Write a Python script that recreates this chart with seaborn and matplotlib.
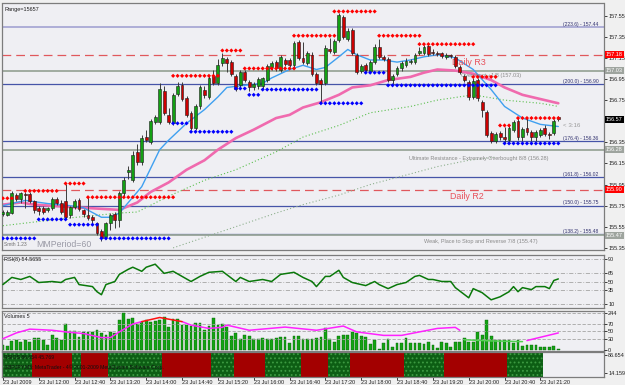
import numpy as np
import pandas as pd
import matplotlib
matplotlib.use("Agg")
import matplotlib.pyplot as plt
import seaborn as sns

# GBPJPY M5, 23 Jul 2009, bars 11:20 .. 21:40
opens = [155.67, 155.66, 155.68, 155.85, 155.81, 155.86, 155.86, 155.79, 155.73, 155.73,
         155.71, 155.73, 155.81, 155.78, 155.79, 155.66, 155.74, 155.80, 155.71, 155.66,
         155.64, 155.59, 155.51, 155.45, 155.59, 155.67, 155.61, 155.87, 156.07, 155.99,
         156.26, 156.16, 156.40, 156.35, 156.54, 156.54, 156.84, 156.61, 156.53, 156.81,
         156.89, 156.77, 156.63, 156.49, 156.69, 156.85, 156.78, 156.98, 156.91, 157.10,
         157.14, 157.11, 156.98, 156.89, 157.02, 156.92, 156.87, 156.88, 156.88, 156.94,
         157.06, 157.11, 157.04, 157.13, 157.13, 157.08, 157.30, 157.15, 157.10, 157.18,
         157.00, 156.94, 156.91, 157.23, 157.21, 157.32, 157.54, 157.33, 157.41, 157.18,
         157.03, 157.08, 157.03, 157.11, 157.25, 157.16, 157.14, 156.94, 157.00, 157.05,
         157.08, 157.11, 157.11, 157.20, 157.20, 157.26, 157.21, 157.20, 157.20, 157.16,
         157.18, 157.16, 157.06, 156.98, 156.92, 156.78, 156.94, 156.73, 156.64, 156.44,
         156.36, 156.44, 156.40, 156.37, 156.47, 156.55, 156.40, 156.49, 156.45, 156.40,
         156.42, 156.49, 156.43, 156.44, 156.59]
highs = [155.71, 155.71, 155.89, 155.87, 155.88, 155.88, 155.88, 155.80, 155.75, 155.75,
         155.74, 155.83, 155.83, 155.80, 155.96, 155.75, 155.81, 155.82, 155.72, 155.83,
         155.66, 155.60, 155.53, 155.60, 155.68, 155.69, 155.89, 156.02, 156.13, 156.27,
         156.33, 156.42, 156.47, 156.57, 156.61, 156.91, 156.88, 156.68, 156.82, 156.92,
         156.92, 156.79, 156.65, 156.71, 156.89, 156.88, 156.98, 157.04, 157.14, 157.20,
         157.16, 157.13, 157.00, 157.04, 157.04, 156.94, 156.92, 156.97, 156.97, 157.09,
         157.12, 157.13, 157.18, 157.15, 157.15, 157.31, 157.32, 157.30, 157.22, 157.21,
         157.02, 156.96, 157.27, 157.34, 157.33, 157.58, 157.56, 157.43, 157.43, 157.20,
         157.09, 157.10, 157.13, 157.28, 157.33, 157.18, 157.16, 157.00, 157.07, 157.12,
         157.15, 157.14, 157.20, 157.25, 157.27, 157.28, 157.23, 157.22, 157.21, 157.20,
         157.19, 157.18, 157.08, 157.00, 156.94, 156.96, 156.96, 156.75, 156.66, 156.46,
         156.45, 156.46, 156.50, 156.51, 156.56, 156.58, 156.50, 156.58, 156.47, 156.47,
         156.49, 156.51, 156.45, 156.57, 156.60]
lows = [155.65, 155.65, 155.67, 155.79, 155.78, 155.73, 155.78, 155.68, 155.66, 155.67,
        155.69, 155.71, 155.76, 155.67, 155.62, 155.63, 155.72, 155.70, 155.64, 155.61,
        155.58, 155.47, 155.42, 155.43, 155.52, 155.54, 155.55, 155.84, 156.00, 155.97,
        156.14, 156.14, 156.35, 156.33, 156.52, 156.52, 156.61, 156.52, 156.51, 156.79,
        156.74, 156.59, 156.47, 156.47, 156.67, 156.77, 156.76, 156.89, 156.89, 157.07,
        157.02, 156.98, 156.84, 156.87, 156.92, 156.84, 156.85, 156.86, 156.86, 156.92,
        157.04, 157.03, 157.02, 157.07, 157.06, 157.06, 157.13, 157.09, 157.08, 156.98,
        156.89, 156.72, 156.89, 157.20, 157.19, 157.30, 157.33, 157.31, 157.18, 157.00,
        157.01, 157.02, 157.01, 157.09, 157.14, 157.12, 156.92, 156.90, 156.98, 157.03,
        157.06, 157.09, 157.09, 157.18, 157.18, 157.17, 157.18, 157.17, 157.15, 157.14,
        157.15, 157.05, 157.00, 156.92, 156.75, 156.76, 156.74, 156.59, 156.40, 156.34,
        156.34, 156.37, 156.34, 156.35, 156.45, 156.37, 156.36, 156.42, 156.36, 156.36,
        156.40, 156.41, 156.38, 156.42, 156.55]
closes = [155.69, 155.69, 155.87, 155.81, 155.87, 155.85, 155.79, 155.71, 155.70, 155.69,
          155.73, 155.81, 155.78, 155.69, 155.64, 155.74, 155.79, 155.72, 155.67, 155.63,
          155.61, 155.49, 155.44, 155.59, 155.66, 155.61, 155.87, 155.99, 156.09, 156.23,
          156.16, 156.39, 156.37, 156.55, 156.59, 156.86, 156.63, 156.54, 156.80, 156.88,
          156.76, 156.61, 156.49, 156.69, 156.87, 156.80, 156.96, 156.91, 157.08, 157.15,
          157.10, 157.00, 156.86, 157.02, 156.94, 156.87, 156.90, 156.95, 156.96, 157.07,
          157.10, 157.05, 157.16, 157.09, 157.08, 157.29, 157.15, 157.11, 157.20, 157.00,
          156.91, 156.90, 157.24, 157.22, 157.31, 157.56, 157.35, 157.40, 157.20, 157.02,
          157.07, 157.04, 157.11, 157.25, 157.16, 157.14, 156.94, 156.98, 157.05, 157.10,
          157.12, 157.12, 157.18, 157.22, 157.25, 157.19, 157.20, 157.19, 157.17, 157.18,
          157.17, 157.07, 157.02, 156.94, 156.78, 156.93, 156.77, 156.66, 156.42, 156.36,
          156.43, 156.40, 156.38, 156.49, 156.54, 156.40, 156.48, 156.45, 156.40, 156.45,
          156.47, 156.43, 156.42, 156.55, 156.57]
volumes = [30, 27, 60, 64, 53, 64, 53, 75, 75, 64,
           31, 98, 75, 64, 171, 124, 124, 82, 120, 115,
           115, 131, 113, 98, 120, 109, 198, 242, 202, 209,
           171, 186, 198, 186, 191, 198, 220, 149, 202, 202,
           164, 164, 158, 180, 175, 131, 158, 213, 162, 171,
           149, 91, 109, 69, 98, 91, 69, 69, 75, 69,
           69, 75, 87, 82, 47, 91, 91, 69, 69, 69,
           75, 82, 142, 69, 53, 91, 98, 98, 120, 113,
           91, 82, 36, 64, 5, 47, 69, 20, 47, 47,
           75, 47, 47, 47, 38, 53, 31, 9, 53, 42,
           16, 53, 53, 75, 53, 53, 120, 98, 198, 91,
           64, 64, 64, 64, 42, 64, 27, 31, 31, 31,
           16, 16, 16, 27, 3]

time_ticks = [0, 8, 16, 24, 32, 40, 48, 56, 64, 72, 80, 88, 96, 104, 112, 120]
time_labels = ["23 Jul 2009", "23 Jul 12:00", "23 Jul 12:40", "23 Jul 13:20", "23 Jul 14:00",
               "23 Jul 14:40", "23 Jul 15:20", "23 Jul 16:00", "23 Jul 16:40", "23 Jul 17:20",
               "23 Jul 18:00", "23 Jul 18:40", "23 Jul 19:20", "23 Jul 20:00", "23 Jul 20:40",
               "23 Jul 21:20"]

# moving averages (sampled along the curves)
ma_fast_bars = [0, 5, 10, 15, 18, 22, 24, 26, 29, 31, 35, 37, 41, 45, 48, 50, 54, 58, 60, 64,
                67, 70, 72, 75, 77, 79, 82, 85, 88, 91, 94, 97, 101, 105, 109, 112, 116, 120, 124]
ma_fast_vals = [155.75, 155.80, 155.77, 155.75, 155.73, 155.64, 155.64, 155.68, 155.83, 155.93,
                156.28, 156.37, 156.53, 156.66, 156.78, 156.87, 156.89, 156.91, 156.96, 157.04,
                157.08, 157.04, 157.06, 157.16, 157.23, 157.18, 157.13, 157.13, 157.11, 157.13,
                157.16, 157.18, 157.15, 157.04, 156.85, 156.69, 156.58, 156.52, 156.50]
ma_mid_bars = [0, 4, 7, 14, 22, 26, 30, 33, 37, 41, 45, 48, 52, 56, 61, 64, 67, 71, 75, 78,
               82, 86, 91, 94, 97, 101, 105, 109, 112, 116, 120, 124]
ma_mid_vals = [155.76, 155.78, 155.76, 155.74, 155.72, 155.71, 155.78, 155.88, 155.97, 156.09,
               156.18, 156.28, 156.39, 156.47, 156.58, 156.61, 156.68, 156.73, 156.80, 156.87,
               156.89, 156.94, 156.97, 157.01, 157.04, 157.03, 157.00, 156.94, 156.87, 156.80,
               156.76, 156.72]
ma_slow_bars = [0, 14, 26, 30, 37, 45, 52, 61, 67, 75, 82, 91, 97, 105, 112, 120, 124]
ma_slow_vals = [155.56, 155.63, 155.68, 155.69, 155.84, 155.99, 156.09, 156.26, 156.40, 156.51,
                156.63, 156.69, 156.75, 156.80, 156.75, 156.72, 156.69]
ma_long_bars = [38, 61, 67, 75, 82, 90, 97, 104, 110]
ma_long_vals = [155.35, 155.68, 155.76, 155.85, 155.95, 156.04, 156.12, 156.18, 156.21]

# fractal dot levels: (price, first bar, last bar)
res_levels = [(155.82, 0, 2), (155.89, 5, 12), (155.96, 14, 18), (155.83, 19, 38),
              (156.98, 38, 48), (157.22, 49, 53), (157.05, 54, 65), (157.36, 65, 74),
              (157.59, 74, 83), (157.36, 84, 93), (157.28, 93, 105), (156.97, 105, 110),
              (156.51, 111, 113), (156.58, 115, 124)]
sup_levels = [(155.44, 0, 7), (155.62, 8, 14), (155.57, 15, 21), (155.44, 22, 37),
              (156.53, 38, 41), (156.45, 42, 51), (156.86, 52, 54), (156.80, 55, 57),
              (156.85, 58, 70), (156.72, 71, 80), (157.01, 81, 85), (156.89, 86, 110),
              (156.34, 112, 124)]

fib_pcts = ["223.6", "200.0", "176.4", "161.8", "150.0", "138.2"]
fib_prices = [157.44, 156.90, 156.36, 156.02, 155.75, 155.48]
pivot_names = ["Daily R3", "Daily R2"]
pivot_prices = [157.18, 155.90]
mm_texts = ["Overshoot +1/8 (157.03)",
            "Ultimate Resistance - Extremely Overbought 8/8 (156.28)",
            "Weak, Place to Stop and Reverse 7/8 (155.47)"]
mm_prices = [157.03, 156.28, 155.47]
price_ticks = [155.35, 155.55, 155.75, 155.95, 156.15, 156.35, 156.75, 156.95,
               157.15, 157.35, 157.55]
last_price = 156.57

rsi_bars = [0, 2, 4, 6, 8, 11, 13, 14, 16, 17, 20, 21, 22, 23, 25, 26, 28, 29, 31, 32,
            34, 36, 38, 40, 42, 44, 46, 49, 52, 53, 55, 58, 60, 62, 65, 67, 69, 70, 72, 73,
            75, 76, 78, 81, 83, 84, 86, 88, 90, 92, 93, 95, 96, 98, 100, 101, 104, 105, 107, 109,
            111, 113, 114, 115, 116, 118, 119, 121, 122, 123, 124]
rsi_vals = [44.5, 57.3, 53.6, 59.1, 48.2, 50, 48.2, 53.6, 57.3, 44.5,
            40.9, 31.8, 26.4, 44.5, 50, 62.7, 71.8, 75.5, 68.2, 75.5,
            80.9, 64.5, 68.2, 59.1, 50, 59.1, 66.4, 68.2, 50, 57.3,
            50, 53.6, 50, 62.7, 66.4, 57.3, 50, 40.9, 59.1, 59.1,
            70, 57.3, 48.2, 42.7, 50, 44.5, 37.3, 44.5, 48.2, 59.1,
            60.9, 53.6, 53.6, 50, 50, 39.1, 20.9, 37.3, 30, 17.3,
            22.7, 31.8, 40.9, 31.8, 39.1, 35.5, 40.9, 40.9, 37.3, 51.8, 54.6]
rsi_levels = [90, 65, 50, 35, 10]

osc_bars = [0, 3, 6, 11, 14, 18, 22, 24, 26, 29, 31, 35, 40, 42, 46, 49, 50, 55, 63, 70,
            76, 79, 85, 89, 93, 97, 101, 102, 103, 109, 116, 117, 124]
osc_vals = [30, 45.7, 56, 53, 48.5, 44, 33, 33, 48.5, 70, 76.5, 87.7, 76.5, 67, 58, 61, 67, 53,
            61.6, 53, 64.4, 48.5, 39, 39, 48.5, 58, 60.8, 53, 27, 24, 22, 25, 45.7]
osc_red = (31, 40)
osc_green = (103, 116)
osc_levels = [30, 50, 70]

band_starts = [0, 7, 16, 18, 24, 36, 47, 52, 59, 67, 73, 78, 90, 99, 113]
band_ends = [6, 15, 17, 23, 35, 46, 51, 58, 66, 72, 77, 89, 98, 112, 120]
band_up = [1, 0, 1, 0, 1, 0, 1, 0, 1, 0, 1, 0, 1, 0, 1]

# ------------------------------------------------------------------
sns.set_theme(style="white")
plt.rcParams["font.family"] = ["Liberation Sans", "DejaVu Sans"]
plt.rcParams["hatch.linewidth"] = 0.8

BG = "#efeff3"
EDGE = "#7c7c7c"
FS = 4.0
fig = plt.figure(figsize=(6.25, 3.85), dpi=100, facecolor="#f0f0f0")


def panel(top, bottom):
    a = fig.add_axes([2 / 625, 1 - bottom / 385, 602 / 625, (bottom - top) / 385])
    a.set_facecolor(BG)
    a.set_xlim(-0.2, 134.2)
    for s in a.spines.values():
        s.set_color(EDGE)
        s.set_linewidth(0.9)
    a.yaxis.tick_right()
    a.tick_params(axis="y", labelsize=FS, length=2, pad=1, colors="#202020", width=0.6)
    a.tick_params(axis="x", bottom=False, labelbottom=False)
    return a


ax = panel(3, 250)
ax_rsi = panel(255, 308)
ax_vol = panel(311, 351)
ax_band = panel(352, 377)

# ---------------- main price window ----------------
ax.set_ylim(155.33, 157.67)
ax.spines["top"].set_linestyle((0, (1, 1)))
ax.spines["left"].set_linestyle((0, (1, 1)))

line_style = {157.44: ("#a9a9d4", "-", 1.3), 156.90: ("#4654a8", "-", 0.9),
              156.36: ("#4654a8", "-", 0.9), 156.02: ("#4654a8", "-", 0.9),
              155.75: ("#4654a8", "-", 0.9), 155.48: ("#4654a8", "-", 0.9)}
for p in fib_prices:
    c, ls, lw = line_style[p]
    ax.axhline(p, color=c, ls=ls, lw=lw, zorder=1)
for p in pivot_prices:
    ax.axhline(p, color="#e0585c", ls=(0, (7, 4)), lw=0.9, zorder=1)
for p in mm_prices:
    ax.axhline(p, color="#9aa69a", lw=1.3, zorder=1)

sns.lineplot(x=ma_long_bars, y=ma_long_vals, ax=ax, color="#8fb08f", lw=0.8, ls=(0, (1, 2)), zorder=2)
sns.lineplot(x=ma_slow_bars, y=ma_slow_vals, ax=ax, color="#5cbf4f", lw=0.8, ls=(0, (1, 2)), zorder=2)
sns.lineplot(x=ma_mid_bars, y=ma_mid_vals, ax=ax, color="#f06aae", lw=1.9, zorder=2)
sns.lineplot(x=ma_fast_bars, y=ma_fast_vals, ax=ax, color="#3fa0f0", lw=1.0, zorder=2)

cd = pd.DataFrame({"bar": np.arange(len(opens)), "open": opens, "high": highs,
                   "low": lows, "close": closes})
cd["up"] = cd["close"] >= cd["open"]
cd["body_lo"] = cd[["open", "close"]].min(axis=1)
cd["body_h"] = (cd["close"] - cd["open"]).abs().clip(lower=0.007)
ax.vlines(cd["bar"], cd["low"], cd["high"], color="#3c3c3c", lw=0.7, zorder=3)
for is_up, col in [(True, "#13a013"), (False, "#cc0000")]:
    sub = cd[cd["up"] == is_up]
    ax.bar(sub["bar"], sub["body_h"], bottom=sub["body_lo"], width=0.64, color=col,
           edgecolor="#1c1c1c", linewidth=0.4, zorder=4)

dot_rows = []
for kind, levels in [("res", res_levels), ("sup", sup_levels)]:
    for price, a, b in levels:
        for i in range(a, b + 1):
            dot_rows.append({"bar": i, "price": price, "kind": kind})
dots = pd.DataFrame(dot_rows)
sns.scatterplot(data=dots, x="bar", y="price", hue="kind", palette={"res": "#ff0000", "sup": "#0000ff"},
                marker="D", s=4.5, linewidth=0, legend=False, ax=ax, zorder=5)

for pct, p in zip(fib_pcts, fib_prices):
    ax.text(125, p + 0.028, f"({pct}) - {p:.2f}", fontsize=3.6, color="#333370", va="center", ha="left")
ax.text(100.3, pivot_prices[0] - 0.075, pivot_names[0], fontsize=6.4, color="#e8505a", va="center", ha="left")
ax.text(99.8, pivot_prices[1] - 0.065, pivot_names[1], fontsize=6.4, color="#e8505a", va="center", ha="left")
ax.text(115.7, mm_prices[0] - 0.05, mm_texts[0], fontsize=FS, color="#8a8a8a", va="center", ha="right")
ax.text(90.7, mm_prices[1] - 0.08, mm_texts[1], fontsize=FS, color="#8a8a8a", va="center", ha="left")
ax.text(94.0, mm_prices[2] - 0.06, mm_texts[2], fontsize=FS, color="#8a8a8a", va="center", ha="left")
ax.text(125, 156.51, "< 3:16", fontsize=4.4, color="#9a9a9a", va="center", ha="left")
ax.text(7.4, 155.38, "MMPeriod=60", fontsize=6.3, color="#9a9aa6", va="center", ha="left")
ax.text(0.003, 0.012, "Smth 1.23", transform=ax.transAxes, fontsize=3.6, color="#707070", va="bottom")
ax.text(0.004, 0.985, "Range=15657", transform=ax.transAxes, fontsize=FS, color="#202020", va="top")

ax.set_yticks(price_ticks)
ax.set_yticklabels([f"{p:.2f}" for p in price_ticks])
boxes = [(pivot_prices[0], "#ff0000", "white"), (mm_prices[0], "#9ea49e", "white"),
         (last_price, "#000000", "white"), (mm_prices[1], "#9ea49e", "white"),
         (pivot_prices[1], "#ff0000", "white"), (mm_prices[2], "#9ea49e", "white")]
for p, fc, tc in boxes:
    ax.text(1.003, p, f"{p:.2f}", transform=ax.get_yaxis_transform(), fontsize=FS, color=tc,
            va="center", ha="left", clip_on=False,
            bbox=dict(boxstyle="square,pad=0.2", fc=fc, ec="none"))

# ---------------- RSI window ----------------
ax_rsi.set_ylim(2.7, 97.3)
for lv in rsi_levels:
    ax_rsi.axhline(lv, color="#a4a4a4", lw=0.6, ls=(0, (5, 2, 1, 2)), zorder=1)
sns.lineplot(x=rsi_bars, y=rsi_vals, ax=ax_rsi, color="#0a780a", lw=1.1, zorder=3)
ax_rsi.set_yticks(rsi_levels)
ax_rsi.set_yticklabels([str(v) for v in rsi_levels])
ax_rsi.text(0.004, 1 - 5 / 53, "RSI(8) 54.5655", transform=ax_rsi.transAxes, fontsize=FS,
            color="#202020", va="center")

# ---------------- volume window ----------------
ax_vol.set_ylim(-8.6, 257)
ax_vol.bar(np.arange(len(volumes)), volumes, width=0.62, color="#13a313", edgecolor="#0b600b",
           linewidth=0.3, zorder=2)
ax_vol.axhline(244, color="#a4a4a4", lw=0.6, ls=(0, (4, 2)), zorder=1)
ax_osc = ax_vol.twinx()
ax_vol.yaxis.tick_right()   # twinx moves the host ticks to the left
ax_vol.tick_params(axis="y", labelsize=FS, length=2, pad=1, colors="#202020", width=0.6)
ax_vol.set_yticks([244])
ax_vol.set_yticklabels(["244"])
ax_osc.set_xlim(-0.2, 134.2)
ax_osc.set_ylim(-3.5, 105.4)
for s in ax_osc.spines.values():
    s.set_visible(False)
ax_osc.tick_params(axis="y", labelsize=FS, length=2, pad=1, colors="#202020", width=0.6)
for lv in osc_levels:
    ax_osc.axhline(lv, color="#a4a4a4", lw=0.6, ls=(0, (4, 2)), zorder=1)
od = pd.DataFrame({"bar": osc_bars, "val": osc_vals})
seg_m1 = od[od["bar"] <= osc_red[0]]
seg_r = od[(od["bar"] >= osc_red[0]) & (od["bar"] <= osc_red[1])]
seg_m2 = od[(od["bar"] >= osc_red[1]) & (od["bar"] < osc_green[0])]
seg_g = od[(od["bar"] >= osc_green[0]) & (od["bar"] <= osc_green[1])]
seg_m3 = od[od["bar"] > osc_green[1]]
for seg, col in [(seg_m1, "#ff22ff"), (seg_m2, "#ff22ff"), (seg_m3, "#ff22ff"),
                 (seg_r, "#ff1010"), (seg_g, "#55d055")]:
    sns.lineplot(data=seg, x="bar", y="val", ax=ax_osc, color=col, lw=1.1, zorder=3)
ax_osc.set_yticks([0] + osc_levels)
ax_osc.set_yticklabels(["0"] + [str(v) for v in osc_levels])
ax_vol.text(0.004, 1 - 5 / 40, "Volumes 5", transform=ax_vol.transAxes, fontsize=FS,
            color="#202020", va="center")

# ---------------- colour band window ----------------
ax_band.set_ylim(0, 100)
for a, b, u in zip(band_starts, band_ends, band_up):
    if u:
        ax_band.bar(a - 0.5, 100, width=b - a + 1, align="edge", color="#0d5e14",
                    edgecolor="#3d9a42", hatch="....", linewidth=0, zorder=1)
    else:
        ax_band.bar(a - 0.5, 100, width=b - a + 1, align="edge", color="#a30000",
                    linewidth=0, zorder=1)
ax_band.set_yticks([86.654, 14.159])
ax_band.set_yticklabels(["86.654", "14.159"])
ax_band.text(0.004, 0.78, "RSIOS 86.654 45.769", transform=ax_band.transAxes, fontsize=3.7,
             color="#101010", va="center")
ax_band.text(0.004, 0.40, "GBPJPY,M5: MetaTrader - 4© 2001-2009 MetaQuotes Software Corp.",
             transform=ax_band.transAxes, fontsize=3.7, color="#101010", va="center")
ax_band.tick_params(axis="x", bottom=True, labelbottom=True, length=2, pad=0.5, width=0.6,
                    labelsize=FS, colors="#202020")
ax_band.set_xticks(time_ticks)
ax_band.set_xticklabels(time_labels, ha="left")

# seaborn puts column names on the axes; the terminal shows none
for a in (ax, ax_rsi, ax_vol, ax_osc, ax_band):
    a.set_xlabel("")
    a.set_ylabel("")

fig.savefig("out.png", dpi=100, facecolor=fig.get_facecolor())
